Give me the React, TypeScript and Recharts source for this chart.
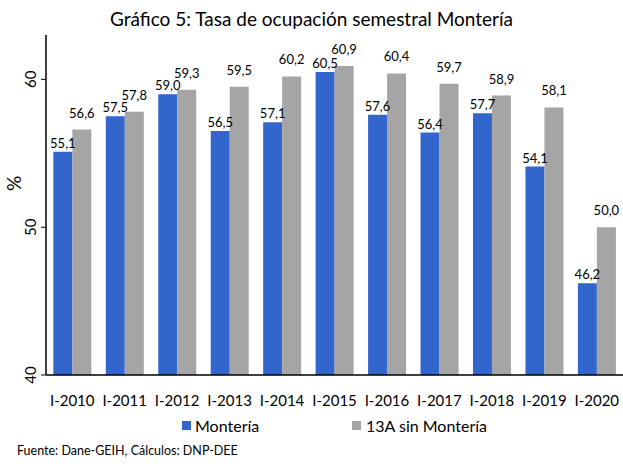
import React from 'react';
import { BarChart, Bar, XAxis, YAxis, LabelList } from 'recharts';

const periods = ['I-2010', 'I-2011', 'I-2012', 'I-2013', 'I-2014', 'I-2015', 'I-2016', 'I-2017', 'I-2018', 'I-2019', 'I-2020'];
const monteria = [55.1, 57.5, 59.0, 56.5, 57.1, 60.5, 57.6, 56.4, 57.7, 54.1, 46.2];
const sinMonteria = [56.6, 57.8, 59.3, 59.5, 60.2, 60.9, 60.4, 59.7, 58.9, 58.1, 50.0];
const yTicks = [40, 50, 60];

const data = periods.map((p, i) => ({ period: p, monteria: monteria[i], sin: sinMonteria[i] }));

const FONT = 'Lato, "Open Sans", sans-serif';
const fmt = (v: any) => Number(v).toFixed(1).replace('.', ',');

const YTick = (props: any) => {
  const { x, y, payload } = props;
  return (
    <text x={x - 3} y={y} transform={`rotate(-90, ${x - 3}, ${y})`} textAnchor="middle" fontSize={15} fill="#000" fontFamily={FONT}>
      {payload.value}
    </text>
  );
};

export default function App() {
  return (
    <div style={{ position: 'absolute', left: 0, top: 0, width: 623, height: 464, background: '#fff', fontFamily: FONT }}>
      <div style={{ position: 'absolute', top: 7, left: 0, width: 623, textAlign: 'center', fontSize: 19, fontWeight: 400, color: '#000' }}>
        Gráfico 5: Tasa de ocupación semestral Montería
      </div>
      <BarChart width={623} height={464} data={data} margin={{ top: 35, right: 0, bottom: 59, left: 0 }} barCategoryGap="14%" barGap={0}>
        <XAxis dataKey="period" height={30} tickLine={false} axisLine={{ stroke: '#000', strokeWidth: 1.5 }} interval={0}
          tick={{ fontSize: 15, fill: '#000', fontFamily: FONT, fontWeight: 400 }} tickMargin={14} />
        <YAxis width={46} domain={[40, 63]} ticks={yTicks} allowDataOverflow tick={<YTick />} tickSize={5}
          tickLine={{ stroke: '#000' }} axisLine={{ stroke: '#000', strokeWidth: 1.5 }}
          label={{ value: '%', angle: -90, position: 'insideLeft', offset: 14, dy: -14, fontSize: 19, fill: '#000', fontFamily: FONT }} />
        <Bar dataKey="monteria" fill="#3366CC" isAnimationActive={false}>
          <LabelList dataKey="monteria" position="top" offset={4} formatter={fmt} fontSize={13} fill="#000" fontFamily={FONT} />
        </Bar>
        <Bar dataKey="sin" fill="#A5A5A5" isAnimationActive={false}>
          <LabelList dataKey="sin" position="top" offset={12} formatter={fmt} fontSize={13} fill="#000" fontFamily={FONT} />
        </Bar>
      </BarChart>
      <div style={{ position: 'absolute', top: 416, left: 182, display: 'flex', alignItems: 'center', fontSize: 16, color: '#000' }}>
        <span style={{ display: 'inline-block', width: 9, height: 9, background: '#3366CC', marginRight: 4 }} />
        Montería
      </div>
      <div style={{ position: 'absolute', top: 416, left: 352, display: 'flex', alignItems: 'center', fontSize: 16, color: '#000' }}>
        <span style={{ display: 'inline-block', width: 9, height: 9, background: '#A5A5A5', marginRight: 5 }} />
        13A sin Montería
      </div>
      <div style={{ position: 'absolute', top: 443, left: 17, fontSize: 12.5, color: '#000' }}>
        Fuente: Dane-GEIH, Cálculos: DNP-DEE
      </div>
    </div>
  );
}
